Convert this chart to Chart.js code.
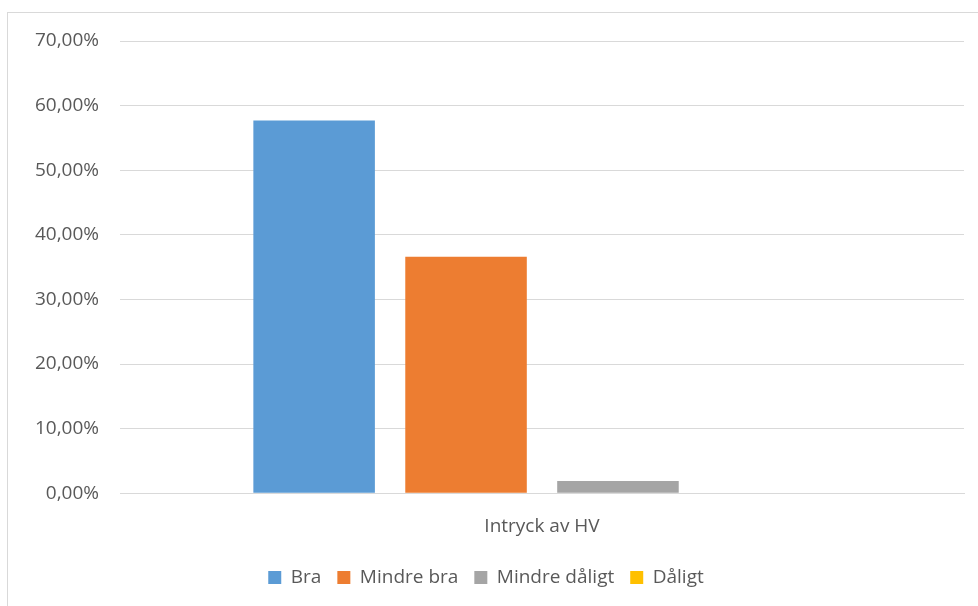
<!DOCTYPE html>
<html>
<head>
<meta charset="utf-8">
<script src="https://cdn.jsdelivr.net/npm/chart.js@4"></script>
<style>
  body { margin: 0; background: #fff; }
  #wrap { position: absolute; left: 7px; top: 12px; width: 971px; height: 594px;
          border-left: 1px solid #d9d9d9; border-top: 1px solid #d9d9d9; }
</style>
</head>
<body>
<div id="wrap"><canvas id="myChart" width="970" height="593"></canvas></div>
<script>
var categories = ['Intryck av HV'];
var seriesNames = ['Bra', 'Mindre bra', 'Mindre dåligt', 'Dåligt'];
var bra = [57.7];
var mindreBra = [36.6];
var mindreDaligt = [1.9];
var daligt = [0];
var colors = ['#5B9BD5', '#ED7D31', '#A5A5A5', '#FFC000'];

var values = [bra, mindreBra, mindreDaligt, daligt];
var datasets = [];
for (var i = 0; i < seriesNames.length; i++) {
    datasets.push({
        label: seriesNames[i],
        data: values[i],
        backgroundColor: colors[i],
        borderWidth: 0,
        barPercentage: 0.8,
        categoryPercentage: 0.72
    });
}

var font = "'Open Sans', 'Liberation Sans', sans-serif";
var ctx = document.getElementById('myChart').getContext('2d');
var myChart = new Chart(ctx, {
    type: 'bar',
    data: { labels: categories, datasets: datasets },
    options: {
        responsive: false,
        animation: false,
        layout: { padding: { top: 28, right: 14, bottom: 9, left: 0 } },
        plugins: {
            legend: {
                position: 'bottom',
                labels: {
                    boxWidth: 13, boxHeight: 13, padding: 16,
                    color: '#595959',
                    font: { family: font, size: 19 }
                }
            },
            tooltip: { enabled: false }
        },
        scales: {
            x: {
                grid: { display: false },
                border: { display: true, color: '#d9d9d9', width: 1 },
                ticks: { color: '#595959', padding: 14, font: { family: font, size: 19 } }
            },
            y: {
                min: 0, max: 70,
                afterFit: function (scale) {
                    scale.width = 112;
                    scale.paddingTop = 0;
                    scale.paddingBottom = 0;
                },
                grid: { color: '#d9d9d9', drawTicks: false },
                border: { display: false },
                ticks: {
                    stepSize: 10,
                    padding: 21,
                    color: '#595959',
                    font: { family: font, size: 19 },
                    callback: function (v) { return v.toFixed(2).replace('.', ',') + '%'; }
                }
            }
        }
    }
});
</script>
</body>
</html>
